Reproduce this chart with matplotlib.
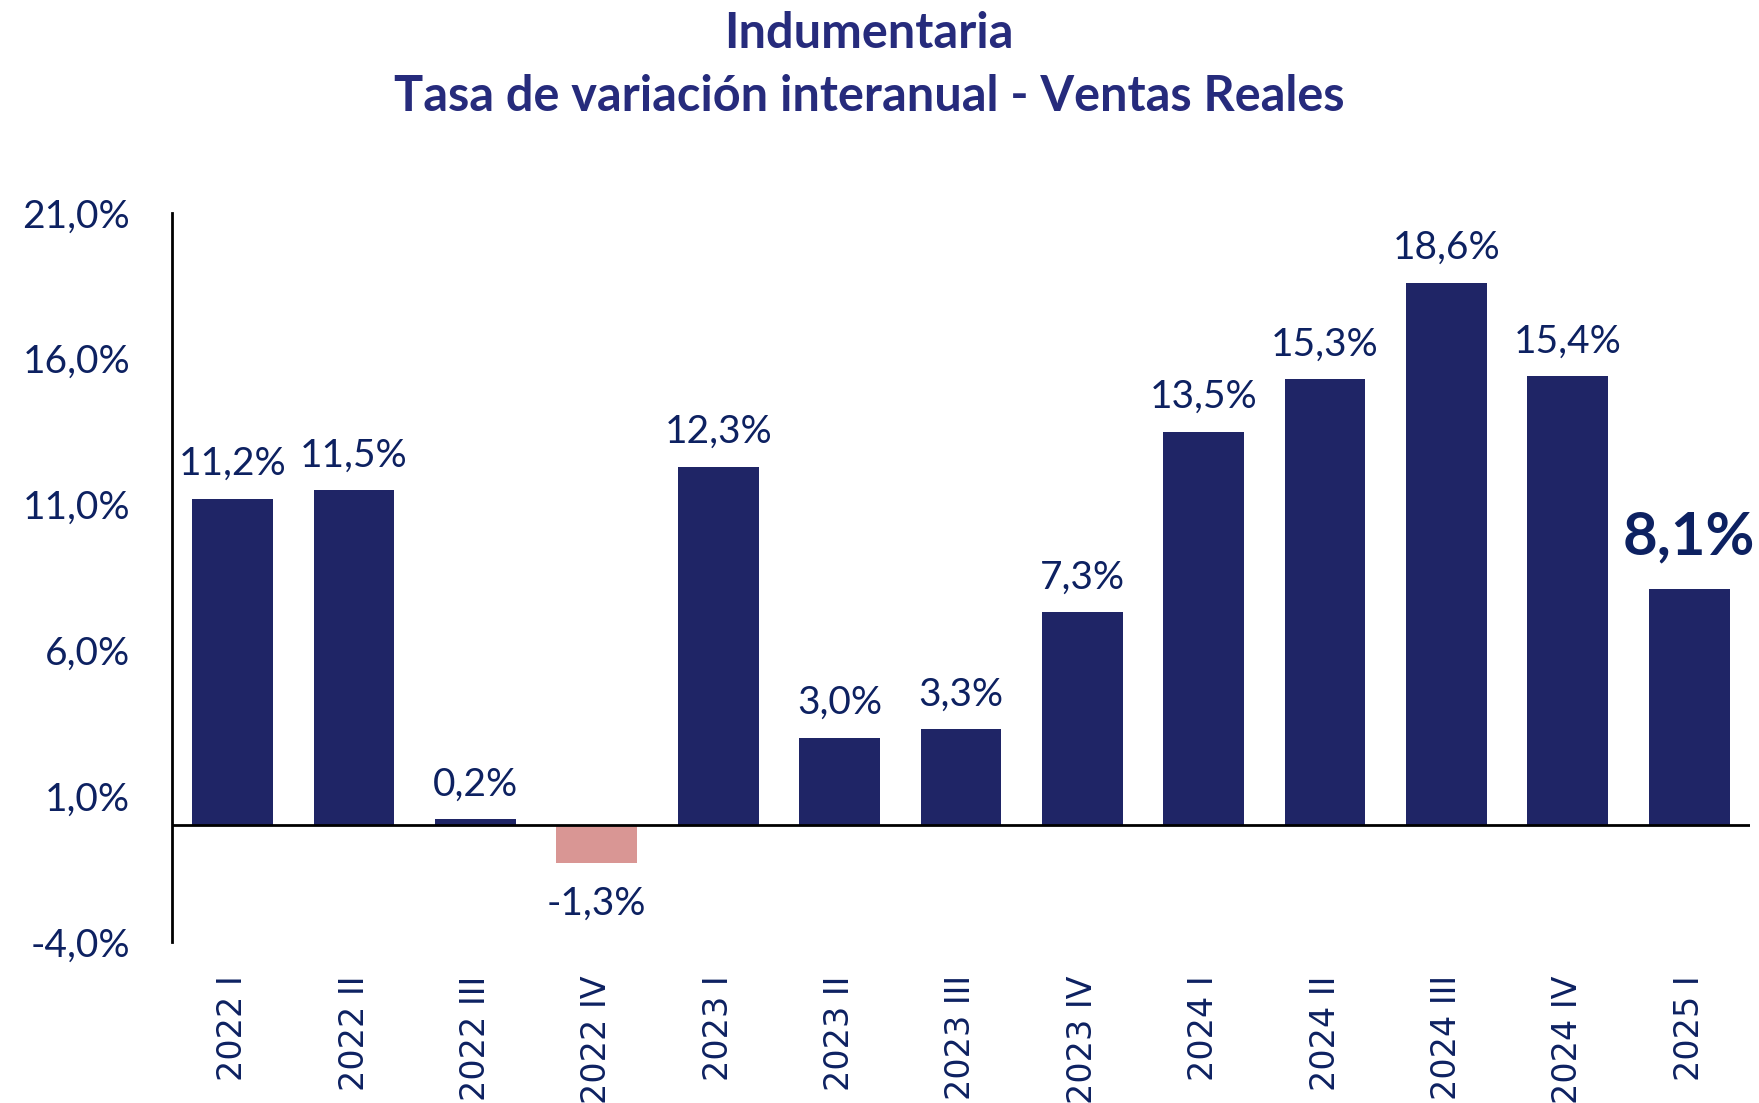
import numpy as np
import matplotlib.pyplot as plt

# values
quarters = ["2022 I", "2022 II", "2022 III", "2022 IV",
            "2023 I", "2023 II", "2023 III", "2023 IV",
            "2024 I", "2024 II", "2024 III", "2024 IV", "2025 I"]
var_pct = [11.2, 11.5, 0.2, -1.3, 12.3, 3.0, 3.3, 7.3, 13.5, 15.3, 18.6, 15.4, 8.1]
y_ticks = [-4.0, 1.0, 6.0, 11.0, 16.0, 21.0]

NAVY = "#1f2566"
PINK = "#d99694"
TXT = "#0d2161"
TITLE = "#262b7c"
NUM_FONT = "Lato"


def fmt(v, dec=1):
    return f"{v:.{dec}f}".replace(".", ",") + "%"


fig = plt.figure(figsize=(17.59, 11.03), dpi=100)
ax = fig.add_axes([0.0978, 0.146, 0.897, 0.661])

x = np.arange(len(quarters))
colors = [PINK if v < 0 else NAVY for v in var_pct]
ax.bar(x, var_pct, width=0.665, color=colors, zorder=2)
ax.axhline(0, color="black", lw=2, zorder=3)

ax.set_xlim(-0.5, len(quarters) - 0.5)
ax.set_ylim(-4, 21)
ax.set_yticks(y_ticks)
ax.set_yticklabels([fmt(t) for t in y_ticks], family=NUM_FONT,
                   fontsize=28, color=TXT)
ax.set_xticks(x)
ax.set_xticklabels(quarters, rotation=90, family="DejaVu Sans", fontsize=24,
                   color=TXT, va="top", ha="center")
ax.tick_params(axis="x", length=0, pad=24)
ax.tick_params(axis="y", length=0, pad=30)

for s in ["top", "right", "bottom"]:
    ax.spines[s].set_visible(False)
ax.spines["left"].set_linewidth(2)
ax.spines["left"].set_color("black")

last = len(var_pct) - 1
for i, v in enumerate(var_pct):
    if i == last:
        ax.annotate(fmt(v), (i, v), xytext=(0, 18), textcoords="offset points",
                    ha="center", va="bottom", family="Lato", fontweight="bold",
                    fontsize=43, color=TXT)
    elif v >= 0:
        ax.annotate(fmt(v), (i, v), xytext=(0, 12), textcoords="offset points",
                    ha="center", va="bottom", family=NUM_FONT,
                    fontsize=28, color=TXT)
    else:
        ax.annotate(fmt(v), (i, v), xytext=(0, -16), textcoords="offset points",
                    ha="center", va="top", family=NUM_FONT,
                    fontsize=28, color=TXT)

fig.text(0.494, 0.9565, "Indumentaria", ha="center", va="baseline", family="Lato",
         fontweight="bold", fontsize=35, color=TITLE)
fig.text(0.494, 0.899, "Tasa de variación interanual - Ventas Reales", ha="center",
         va="baseline", family="Lato", fontweight="bold", fontsize=35, color=TITLE)

fig.savefig("out.png", dpi=100)
